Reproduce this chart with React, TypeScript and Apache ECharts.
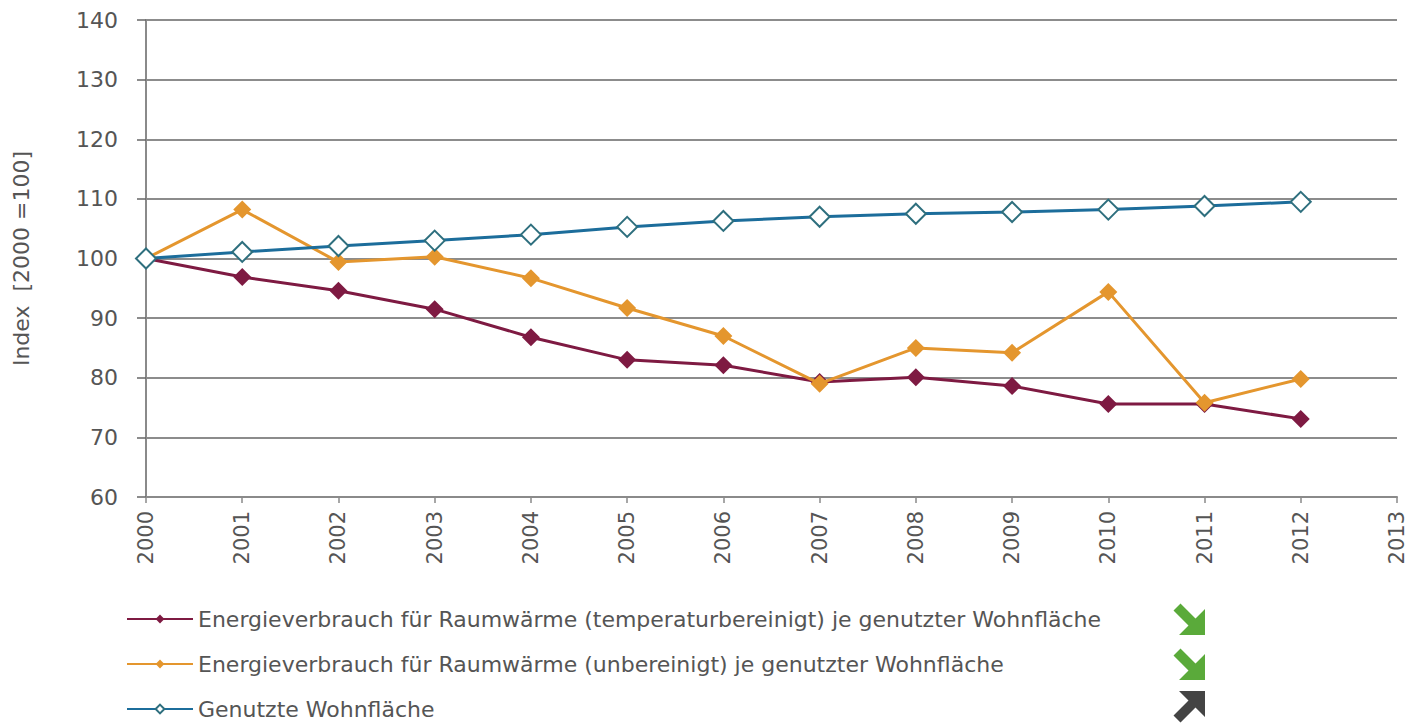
import React, { useEffect, useRef } from "react";
import * as echarts from "echarts";

const years = [2000, 2001, 2002, 2003, 2004, 2005, 2006, 2007, 2008, 2009, 2010, 2011, 2012];
const tempBereinigt = [100, 96.9, 94.6, 91.5, 86.8, 83.0, 82.1, 79.3, 80.1, 78.6, 75.6, 75.6, 73.1];
const unbereinigt = [100, 108.2, 99.4, 100.3, 96.7, 91.7, 87.0, 79.0, 85.0, 84.2, 94.4, 75.8, 79.8];
const wohnflaeche = [100, 101.1, 102.1, 103.0, 104.0, 105.3, 106.3, 107.0, 107.5, 107.8, 108.2, 108.8, 109.5];
const seriesNames = [
  "Energieverbrauch für Raumwärme (temperaturbereinigt) je genutzter Wohnfläche",
  "Energieverbrauch für Raumwärme (unbereinigt) je genutzter Wohnfläche",
  "Genutzte Wohnfläche",
];
const trends = ["down", "down", "up"];

const FONT = "DejaVu Sans";
const TEXT = "#555555";

const downArrow = [
  [7.5, 0.5], [22.5, 15.5], [32, 6], [32, 32], [6, 32], [15.5, 22.5], [0.5, 7.5],
];
const upArrow = downArrow.map(([x, y]) => [x, 32 - y]);

export default function App() {
  const ref = useRef<HTMLDivElement>(null);
  useEffect(() => {
    document.body.style.margin = "0";
    const chart = echarts.init(ref.current!, null, { renderer: "svg" });
    const pairs = (vals: number[]) => years.map((y, i) => [y, vals[i]]);
    const arrowYs = [603, 648, 691];
    chart.setOption({
      animation: false,
      backgroundColor: "#ffffff",
      grid: { left: 146, right: 17, top: 20, bottom: 231 },
      xAxis: {
        type: "value",
        min: 2000,
        max: 2013,
        interval: 1,
        axisLine: { show: true, lineStyle: { color: "#8a8a8a", width: 2 } },
        axisTick: { show: true, length: 6, lineStyle: { color: "#8a8a8a", width: 1.5 } },
        splitLine: { show: false },
        axisLabel: {
          rotate: 90,
          margin: 14,
          color: TEXT,
          fontFamily: FONT,
          fontSize: 21,
          formatter: (v: number) => String(v),
        },
      },
      yAxis: {
        type: "value",
        min: 60,
        max: 140,
        interval: 10,
        name: "Index  [2000 =100]",
        nameLocation: "middle",
        nameGap: 114,
        nameTextStyle: { color: TEXT, fontFamily: FONT, fontSize: 22 },
        axisLine: { show: true, lineStyle: { color: "#8a8a8a", width: 2 } },
        axisTick: { show: true, length: 9, lineStyle: { color: "#666", width: 1.5 } },
        splitLine: { show: true, lineStyle: { color: "#666666", width: 1.5 } },
        axisLabel: { margin: 28, color: TEXT, fontFamily: FONT, fontSize: 22 },
      },
      legend: {
        orient: "vertical",
        left: 121,
        top: 602,
        height: 140,
        itemWidth: 66,
        itemHeight: 11,
        itemGap: 21,
        textStyle: { color: TEXT, fontFamily: FONT, fontSize: 22, lineHeight: 24 },
        data: seriesNames,
      },
      series: [
        {
          name: seriesNames[0],
          type: "line",
          data: pairs(tempBereinigt),
          symbol: "diamond",
          symbolSize: 18,
          lineStyle: { color: "#7e1a42", width: 3 },
          itemStyle: { color: "#7e1a42" },
          z: 2,
        },
        {
          name: seriesNames[1],
          type: "line",
          data: pairs(unbereinigt),
          symbol: "diamond",
          symbolSize: 18,
          lineStyle: { color: "#e4962e", width: 3 },
          itemStyle: { color: "#e4962e" },
          z: 3,
        },
        {
          name: seriesNames[2],
          type: "line",
          data: pairs(wohnflaeche),
          symbol: "emptyDiamond",
          symbolSize: 20,
          lineStyle: { color: "#1c6d9b", width: 3 },
          itemStyle: { color: "#2e6f7e", borderWidth: 2.5 },
          z: 4,
        },
      ],
      graphic: trends.map((t, i) => ({
        type: "polygon",
        x: 1173,
        y: arrowYs[i],
        shape: { points: t === "down" ? downArrow : upArrow },
        style: { fill: t === "down" ? "#5aaa3a" : "#444444" },
      })),
    });
    return () => chart.dispose();
  }, []);
  return <div ref={ref} style={{ width: 1414, height: 728 }} />;
}
